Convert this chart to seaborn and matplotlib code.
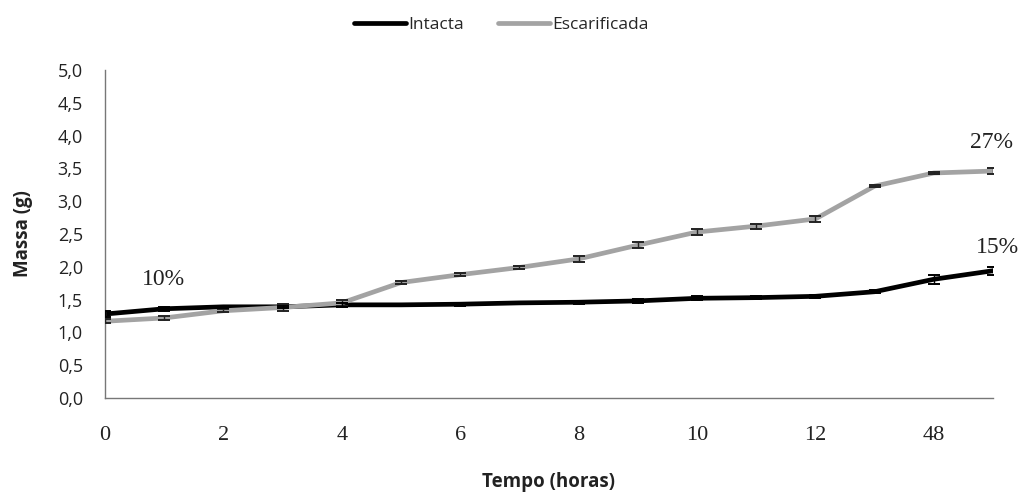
import matplotlib
matplotlib.use("Agg")
import matplotlib.pyplot as plt
import seaborn as sns
import numpy as np
import pandas as pd

# Sampling times (hours) and seed mass (g)
hours = ["0", "1", "2", "3", "4", "5", "6", "7", "8", "9", "10", "11", "12", "24", "48", "72"]
intacta = [1.28, 1.36, 1.39, 1.39, 1.42, 1.42, 1.43, 1.45, 1.46, 1.48, 1.52, 1.53, 1.55, 1.62, 1.81, 1.94]
intacta_err = [0.04, 0.03, 0.02, 0.02, 0.03, 0.02, 0.02, 0.02, 0.02, 0.03, 0.03, 0.02, 0.02, 0.02, 0.07, 0.06]
escarificada = [1.17, 1.22, 1.33, 1.38, 1.45, 1.76, 1.88, 1.99, 2.12, 2.33, 2.53, 2.62, 2.73, 3.23, 3.43, 3.46]
escarificada_err = [0.03, 0.03, 0.02, 0.05, 0.04, 0.02, 0.02, 0.02, 0.04, 0.05, 0.04, 0.04, 0.04, 0.02, 0.02, 0.05]

# x tick labels shown on every other sampling time
tick_labels = ["0", "2", "4", "6", "8", "10", "12", "48"]
y_ticks = [0.0, 0.5, 1.0, 1.5, 2.0, 2.5, 3.0, 3.5, 4.0, 4.5, 5.0]

# percentage gain annotations: text, x position (index), y value
notes = [("10%", 0.98, 1.80), ("27%", 14.98, 3.89), ("15%", 15.07, 2.30)]

sns.set_style("white")
plt.rcParams["font.family"] = ["Open Sans", "DejaVu Sans"]

pos = np.arange(len(hours))
df = pd.DataFrame({
    "pos": np.concatenate([pos, pos]),
    "massa": intacta + escarificada,
    "grupo": ["Intacta"] * len(hours) + ["Escarificada"] * len(hours),
})

fig = plt.figure(figsize=(10.23, 4.93), dpi=100)
ax = fig.add_axes([105 / 1023, 1 - 398 / 493, (993 - 105) / 1023, (398 - 70) / 493])

palette = {"Intacta": "#000000", "Escarificada": "#a3a3a3"}
sns.lineplot(data=df, x="pos", y="massa", hue="grupo", palette=palette,
             linewidth=3.4, ax=ax, legend=False, zorder=2)

ax.errorbar(pos, escarificada, yerr=escarificada_err, fmt="none",
            ecolor="#222222", elinewidth=1.0, capsize=4, capthick=1.4, zorder=3)
ax.errorbar(pos, intacta, yerr=intacta_err, fmt="none",
            ecolor="#000000", elinewidth=1.0, capsize=4, capthick=1.4, zorder=3)

ax.set_xlim(0, len(hours) - 1)
ax.set_ylim(0, 5)
ax.set_xticks(pos)
ax.set_xticklabels([tick_labels[i // 2] if i % 2 == 0 else "" for i in range(len(hours))],
                   fontfamily="Liberation Serif", fontsize=16)
ax.set_yticks(y_ticks)
ax.set_yticklabels([f"{v:.1f}".replace(".", ",") for v in y_ticks], fontsize=13)

ax.tick_params(axis="both", which="both", direction="out", length=4, width=0.8,
               color="#555555", labelcolor="#222222")
ax.tick_params(axis="x", pad=16)
ax.tick_params(axis="y", pad=12)
for side in ["top", "right"]:
    ax.spines[side].set_visible(False)
for side in ["left", "bottom"]:
    ax.spines[side].set_color("#777777")
    ax.spines[side].set_linewidth(1.0)

ax.set_xlabel("Tempo (horas)", fontsize=13.5, fontweight="bold", color="#222222")
ax.xaxis.label.set_va("center")
ax.xaxis.set_label_coords(0.499, -0.256)
ax.set_ylabel("Massa (g)", fontsize=13.5, fontweight="bold", color="#222222")
ax.yaxis.label.set_va("center")
ax.yaxis.set_label_coords(-0.092, 0.5)

for txt, xp, yp in notes:
    ax.text(xp, yp, txt, fontsize=17, fontfamily="Liberation Serif",
            ha="center", va="center", color="#222222", clip_on=False)

handles = [plt.Line2D([], [], color=palette["Intacta"], linewidth=3.4),
           plt.Line2D([], [], color=palette["Escarificada"], linewidth=3.4)]
fig.legend(handles, ["Intacta", "Escarificada"], loc="center", bbox_to_anchor=(0.49, 0.949),
           ncol=2, frameon=False, fontsize=12.5, handlelength=3.0, handletextpad=0.1,
           columnspacing=2.0)

fig.savefig("out.png", dpi=100)
